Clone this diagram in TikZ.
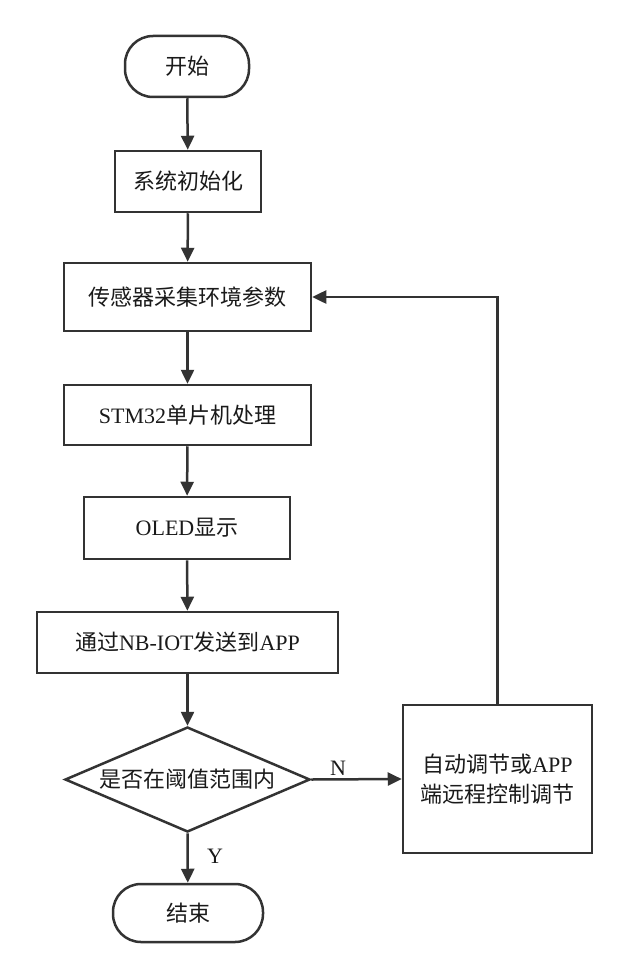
\documentclass[tikz,border=0pt]{standalone}
\usepackage{fontspec}
\setmainfont{Noto Sans CJK SC}
\newfontfamily\lat{Liberation Serif}
\usetikzlibrary{arrows.meta,shapes.geometric}
\definecolor{ln}{HTML}{333333}
\definecolor{tx}{HTML}{1a1a1a}
\begin{document}
\begin{tikzpicture}[x=1pt,y=-1pt,
  every node/.style={font=\fontsize{22}{30}\selectfont, text=tx},
  proc/.style={draw=ln, line width=2.5pt, rectangle, inner sep=0pt, anchor=center},
  term/.style={draw=ln, line width=2.5pt, rectangle, rounded corners=28pt, inner sep=0pt, anchor=center},
  flow/.style={draw=ln, line width=2.5pt, -{Triangle[length=14pt,width=13pt]}},
  lbl/.style={font=\lat\fontsize{22}{26}\selectfont, text=tx}]
\useasboundingbox (0,0) rectangle (629,979);
\fill[white] (0,0) rectangle (629,979);
\node[term, minimum width=124pt, minimum height=61pt] (start) at (187,66.5) {开始};
\node[proc, minimum width=146pt, minimum height=61pt] (init) at (188,181.5) {系统初始化};
\node[proc, minimum width=247pt, minimum height=68pt] (sense) at (187.5,297) {传感器采集环境参数};
\node[proc, minimum width=247pt, minimum height=60pt] (mcu) at (187.5,415) {{\lat STM32}单片机处理};
\node[proc, minimum width=206pt, minimum height=62pt] (oled) at (187,528) {{\lat OLED}显示};
\node[proc, minimum width=301pt, minimum height=61pt] (nb) at (187.5,642.5) {通过{\lat NB-IOT}发送到{\lat APP}};
\node[shape=diamond, draw=ln, line width=2.5pt, inner sep=0pt, aspect=2.33,
      minimum width=245pt, minimum height=105pt] (dec) at (187.5,779.5) {是否在阈值范围内};
\node[term, minimum width=150pt, minimum height=58pt] (end) at (188,913) {结束};
\node[proc, minimum width=189pt, minimum height=148pt, align=center] (adj) at (497.5,779) {自动调节或{\lat APP}\\端远程控制调节};
\coordinate (corner) at (adj.north |- sense.east);
\draw[flow] (start) -- (init);
\draw[flow] (init) -- (sense);
\draw[flow] (sense) -- (mcu);
\draw[flow] (mcu) -- (oled);
\draw[flow] (oled) -- (nb);
\draw[flow] (nb) -- (dec.north);
\draw[flow] (dec.south) -- (end);
\draw[flow] (dec.east) -- (adj.west);
\draw[flow] (adj.north) -- (corner) -- (sense.east);
\node[lbl] (nl) at (338,768) {N};
\node[lbl] (yl) at (215,856) {Y};
\end{tikzpicture}
\end{document}
